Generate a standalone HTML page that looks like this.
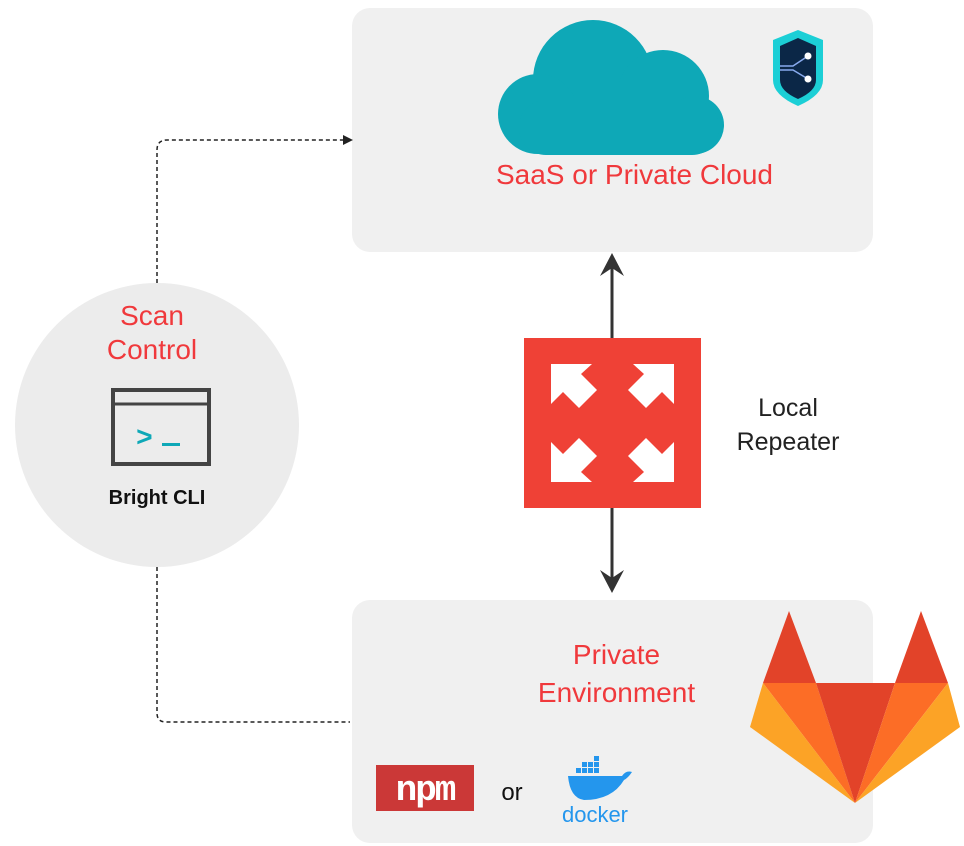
<!DOCTYPE html>
<html><head><style>
body{margin:0;background:#fff;width:964px;height:846px;overflow:hidden;position:relative;font-family:"Liberation Sans",sans-serif}
.box{position:absolute;background:#f0f0f0;border-radius:18px}
.t{position:absolute;color:#f0393c;font-size:28px;text-align:center;line-height:34px;letter-spacing:0px}
</style></head><body>
<div class="box" style="left:352px;top:8px;width:521px;height:244px"></div>
<div class="box" style="left:352px;top:600px;width:521px;height:243px"></div>
<div style="position:absolute;left:15px;top:283px;width:284px;height:284px;border-radius:50%;background:#ececec"></div>
<svg width="964" height="846" style="position:absolute;left:0;top:0">
<g fill="#0ea8b7">
<circle cx="593" cy="80" r="60"/><circle cx="663" cy="96" r="46"/><circle cx="538" cy="114" r="40"/><circle cx="695" cy="125" r="29"/>
<rect x="519" y="100" width="200" height="55" rx="27"/>
</g>
<path d="M798,30 L823,40 L823,80 Q823,95 798,106 Q773,95 773,80 L773,40 Z" fill="#1ccfd6"/>
<path d="M798,38 L816,46 L816,80 Q816,91 798,99 Q780,91 780,80 L780,46 Z" fill="#0b2747"/>
<path d="M780,66 L793,66 L808,56 M780,70 L793,70 L808,79" stroke="#8ae" stroke-width="1.5" fill="none"/>
<circle cx="808" cy="56" r="3.5" fill="#fff"/><circle cx="808" cy="79" r="3.5" fill="#fff"/>
<line x1="612" y1="262" x2="612" y2="338" stroke="#333" stroke-width="3"/>
<path d="M600,276 L612,253 L624,276 L612,268 Z" fill="#333"/>
<line x1="612" y1="508" x2="612" y2="585" stroke="#333" stroke-width="3"/>
<path d="M600,570 L612,593 L624,570 L612,578 Z" fill="#333"/>
<rect x="524" y="338" width="177" height="170" fill="#ef4136"/>
<g fill="#fff">
<path d="M551,364 L592,364 L581,374 L597,390 L579,408 L563,392 L551,404 Z"/>
<path d="M674,364 L633,364 L644,374 L628,390 L646,408 L662,392 L674,404 Z"/>
<path d="M551,482 L592,482 L581,472 L597,456 L579,438 L563,454 L551,442 Z"/>
<path d="M674,482 L633,482 L644,472 L628,456 L646,438 L662,454 L674,442 Z"/>
</g>
<path d="M157,283 L157,150 Q157,140 167,140 L345,140" stroke="#222" stroke-width="1.5" stroke-dasharray="4,3" fill="none"/>
<path d="M343,135 L353,140 L343,145 Z" fill="#222"/>
<path d="M157,567 L157,713 Q157,722 166,722 L350,722" stroke="#222" stroke-width="1.5" stroke-dasharray="4,3" fill="none"/>
<rect x="113" y="390" width="96" height="74" fill="none" stroke="#444" stroke-width="4"/>
<line x1="113" y1="404" x2="209" y2="404" stroke="#444" stroke-width="3"/>
<text x="136" y="446" font-family="Liberation Mono,monospace" font-size="28" font-weight="bold" fill="#0ea8b7">&gt;</text>
<rect x="162" y="443" width="18" height="3" fill="#0ea8b7"/>
<polygon points="789,611 816,683 763,683" fill="#e24329"/>
<polygon points="763,683 816,683 855,803" fill="#fc6d26"/>
<polygon points="763,683 750,727 855,803" fill="#fca326"/>
<polygon points="816,683 895,683 855,803" fill="#e24329"/>
<polygon points="921,611 948,683 895,683" fill="#e24329"/>
<polygon points="948,683 895,683 855,803" fill="#fc6d26"/>
<polygon points="948,683 960,727 855,803" fill="#fca326"/>
<rect x="376" y="765" width="98" height="46" fill="#cb3837"/>
<text x="425" y="800" text-anchor="middle" font-size="36" font-weight="bold" fill="#fff" font-family="Liberation Mono,monospace" letter-spacing="-2">npm</text>
<text x="512" y="800" text-anchor="middle" font-size="24" fill="#111">or</text>
<g fill="#2496ed">
<path d="M568,776 L622,776 Q626,770 632,772 Q628,778 624,780 Q612,800 584,800 Q570,798 568,776 Z"/>
<rect x="576" y="768" width="5" height="5"/><rect x="582" y="768" width="5" height="5"/><rect x="588" y="768" width="5" height="5"/><rect x="594" y="768" width="5" height="5"/>
<rect x="582" y="762" width="5" height="5"/><rect x="588" y="762" width="5" height="5"/><rect x="594" y="762" width="5" height="5"/><rect x="594" y="756" width="5" height="5"/>
</g>
<text x="595" y="822" text-anchor="middle" font-size="22" fill="#2496ed">docker</text>
</svg>
<div class="t" style="left:374px;top:158px;width:521px">SaaS or Private Cloud</div>
<div class="t" style="left:356px;top:636px;width:521px;line-height:38px">Private<br>Environment</div>
<div class="t" style="left:10px;top:299px;width:284px">Scan<br>Control</div>
<div style="position:absolute;left:12px;top:487px;width:290px;text-align:center;font-weight:bold;font-size:20px;color:#111">Bright CLI</div>
<div style="position:absolute;left:718px;top:391px;width:140px;text-align:center;font-size:25px;line-height:34px;color:#222">Local<br>Repeater</div>
</body></html>
